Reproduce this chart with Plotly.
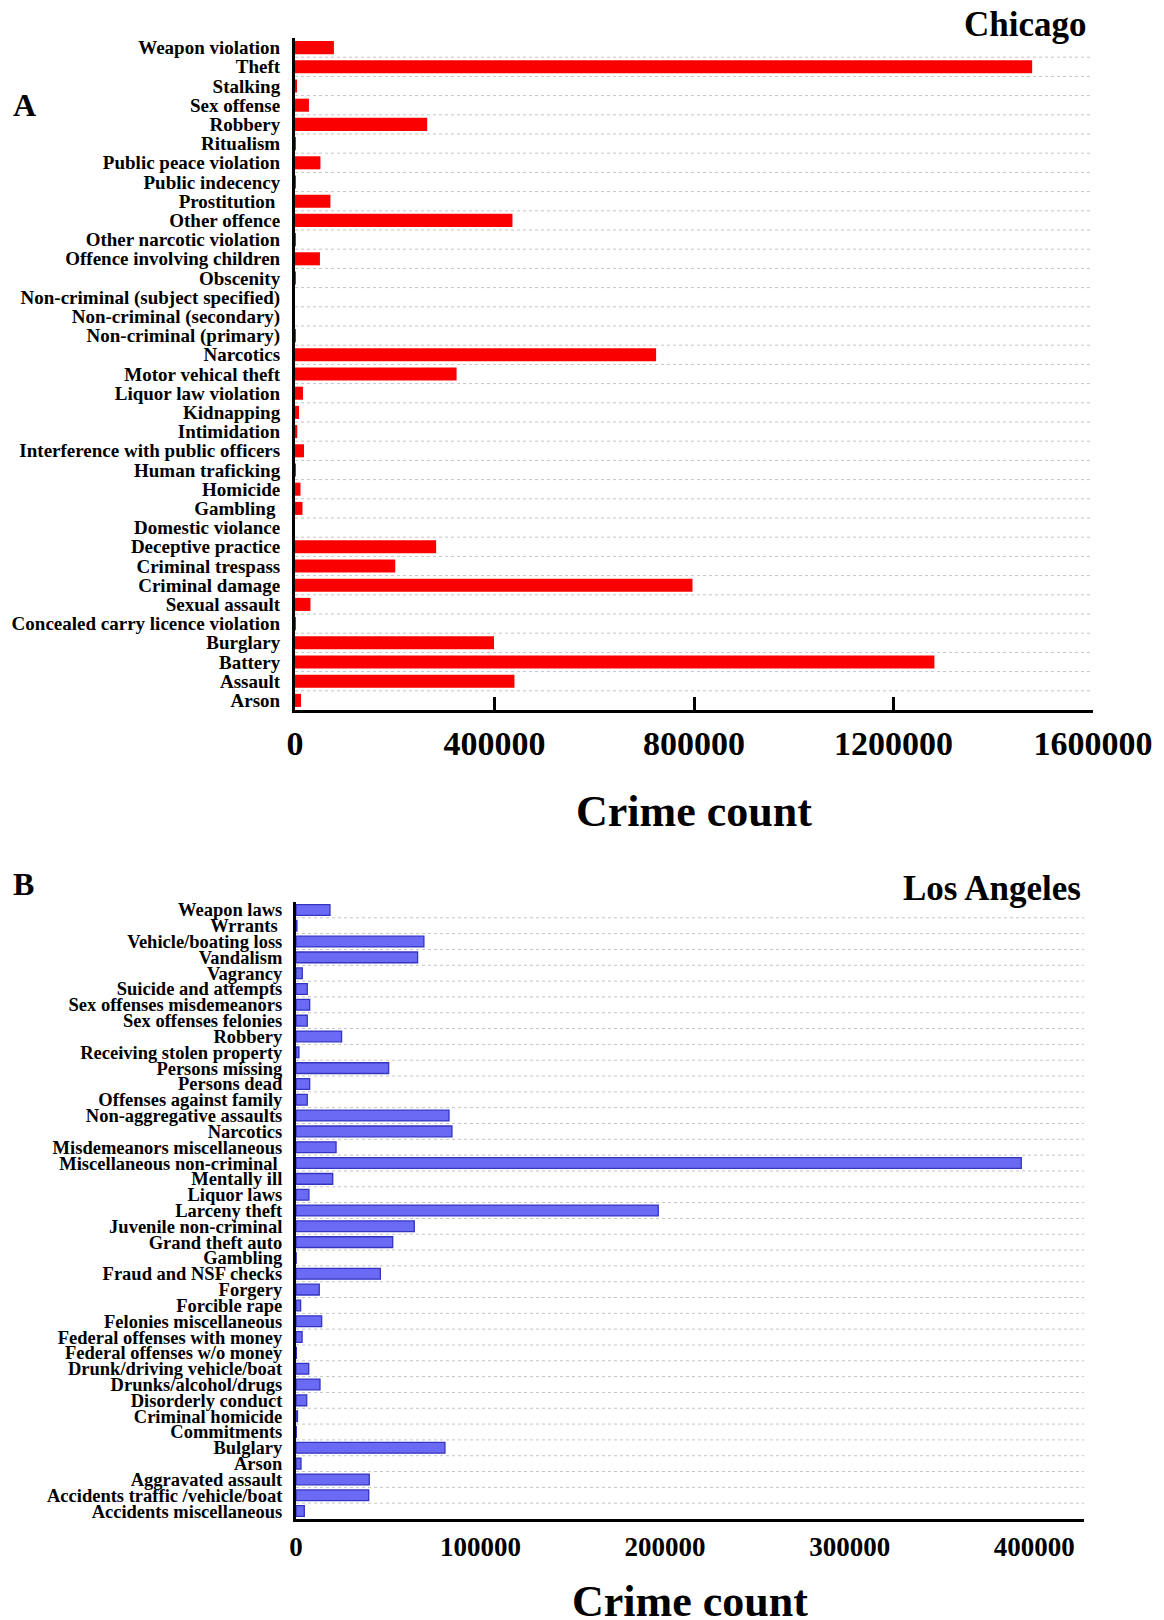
import plotly.graph_objects as go

# ---------------- Chicago (panel A) ----------------
chicago_types = [
    "Weapon violation", "Theft", "Stalking", "Sex offense", "Robbery", "Ritualism",
    "Public peace violation", "Public indecency", "Prostitution\u00a0", "Other offence",
    "Other narcotic violation", "Offence involving children", "Obscenity",
    "Non-criminal (subject specified)", "Non-criminal (secondary)", "Non-criminal (primary)",
    "Narcotics", "Motor vehical theft", "Liquor law violation", "Kidnapping", "Intimidation",
    "Interference with public officers", "Human traficking", "Homicide", "Gambling\u00a0",
    "Domestic violance", "Deceptive practice", "Criminal trespass", "Criminal damage",
    "Sexual assault", "Concealed carry licence violation", "Burglary", "Battery",
    "Assault", "Arson",
]
chicago_counts = [
    78000, 1478000, 4000, 28000, 265000, 20,
    51000, 100, 71000, 436000,
    100, 50000, 100,
    10, 10, 100,
    724000, 324000, 16000, 8000, 4500,
    18000, 50, 11000, 15000,
    5, 283000, 201000, 797000,
    31000, 100, 399000, 1282000,
    440000, 12000,
]
chicago_ticks = [0, 400000, 800000, 1200000, 1600000]

# ---------------- Los Angeles (panel B) ----------------
la_types = [
    "Weapon laws", "Wrrants\u00a0", "Vehicle/boating loss", "Vandalism", "Vagrancy",
    "Suicide and attempts", "Sex offenses misdemeanors", "Sex offenses felonies", "Robbery",
    "Receiving stolen property", "Persons missing", "Persons dead", "Offenses against family",
    "Non-aggregative assaults", "Narcotics", "Misdemeanors miscellaneous",
    "Miscellaneous non-criminal\u00a0", "Mentally ill", "Liquor laws", "Larceny theft",
    "Juvenile non-criminal", "Grand theft auto", "Gambling", "Fraud and NSF checks",
    "Forgery", "Forcible rape", "Felonies miscellaneous", "Federal offenses with money",
    "Federal offenses w/o money", "Drunk/driving vehicle/boat", "Drunks/alcohol/drugs",
    "Disorderly conduct", "Criminal homicide", "Commitments", "Bulglary", "Arson",
    "Aggravated assault", "Accidents traffic /vehicle/boat", "Accidents miscellaneous",
]
la_counts = [
    18400, 500, 69300, 65900, 3400,
    6100, 7400, 6100, 24700,
    1600, 50200, 7400, 6100,
    82900, 84500, 21700,
    393000, 19900, 7000, 196300,
    64100, 52400, 100, 45700,
    12600, 2500, 13900, 3300,
    200, 6900, 13000,
    5800, 800, 150, 80700, 2700,
    39700, 39400, 4500,
]
la_ticks = [0, 100000, 200000, 300000, 400000]

FONT = "Liberation Serif, Times New Roman, serif"
W, H = 1164, 1620


def px_x(x):
    return x / W


def px_y(y):
    return 1 - y / H


fig = go.Figure()

fig.add_trace(go.Bar(
    x=chicago_counts, y=list(range(len(chicago_types))), orientation="h",
    marker=dict(color="#fb0000", line=dict(width=0)),
    xaxis="x", yaxis="y", showlegend=False,
))
fig.add_trace(go.Bar(
    x=la_counts, y=list(range(len(la_types))), orientation="h",
    marker=dict(color="#6a6af4", line=dict(color="#3434c0", width=1.3)),
    xaxis="x2", yaxis="y2", showlegend=False,
))

fig.update_layout(
    width=W, height=H,
    margin=dict(l=0, r=0, t=0, b=0),
    paper_bgcolor="white", plot_bgcolor="white",
    bargap=0.32,
    font=dict(family=FONT, color="black"),
    xaxis=dict(
        domain=[px_x(295), px_x(1093)], anchor="y",
        range=[0, 1600000], tickvals=chicago_ticks, tickformat="d",
        ticks="inside", ticklen=13, tickwidth=3, tickcolor="black",
        showline=True, linewidth=3, linecolor="black",
        showgrid=False, zeroline=False,
        tickfont=dict(family=FONT, size=34, color="black", weight="bold"),
        ticklabelstandoff=1, automargin=False,
    ),
    yaxis=dict(
        domain=[px_y(710), px_y(38)], anchor="x",
        range=[len(chicago_types) - 0.5, -0.5],
        tickvals=list(range(len(chicago_types))), ticktext=chicago_types,
        ticks="", showline=True, linewidth=3, linecolor="black",
        showgrid=False, zeroline=False,
        tickfont=dict(family=FONT, size=19, color="black", weight="bold"),
        ticklabelstandoff=8, automargin=False,
    ),
    xaxis2=dict(
        domain=[px_x(296), px_x(1084)], anchor="y2",
        range=[0, 427000], tickvals=la_ticks, tickformat="d",
        ticks="", showline=True, linewidth=3, linecolor="black",
        showgrid=False, zeroline=False,
        tickfont=dict(family=FONT, size=27, color="black", weight="bold"),
        ticklabelstandoff=2, automargin=False,
    ),
    yaxis2=dict(
        domain=[px_y(1519), px_y(902)], anchor="x2",
        range=[len(la_types) - 0.5, -0.5],
        tickvals=list(range(len(la_types))), ticktext=la_types,
        ticks="", showline=True, linewidth=3, linecolor="black",
        showgrid=False, zeroline=False,
        tickfont=dict(family=FONT, size=18.5, color="black", weight="bold"),
        ticklabelstandoff=7, automargin=False,
    ),
)

# dotted separators between category rows
shapes = []
for yref, xref, n in (("y", "x domain", len(chicago_types)), ("y2", "x2 domain", len(la_types))):
    for i in range(n - 1):
        shapes.append(dict(
            type="line", xref=xref, yref=yref, x0=0, x1=1, y0=i + 0.5, y1=i + 0.5,
            line=dict(color="#c4c4c4", width=1, dash="dot"), layer="below",
        ))
fig.update_layout(shapes=shapes)


def note(text, x, y, size, xanchor="center"):
    fig.add_annotation(
        text=text, x=px_x(x), y=px_y(y), xref="paper", yref="paper",
        xanchor=xanchor, yanchor="middle", showarrow=False,
        font=dict(family=FONT, size=size, color="black", weight="bold"),
    )


note("A", 11, 105, 32, xanchor="left")
note("B", 11, 884, 32, xanchor="left")
note("Chicago", 1089, 25, 35, xanchor="right")
note("Los Angeles", 1083, 889, 35, xanchor="right")
note("Crime count", 694, 811, 44)
note("Crime count", 690, 1601, 44)

fig.write_html("out.html")
